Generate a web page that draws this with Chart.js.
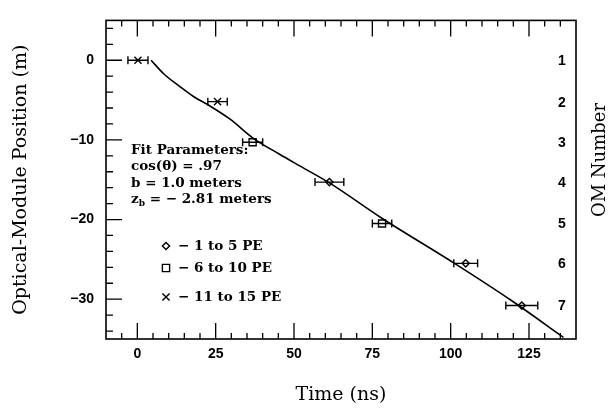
<!DOCTYPE html>
<html>
<head>
<meta charset="utf-8">
<script src="https://cdn.jsdelivr.net/npm/chart.js@4/dist/chart.umd.min.js"></script>
<style>
  html, body { margin: 0; padding: 0; background: #fff; }
  #wrap { width: 613px; height: 409px; }
</style>
</head>
<body>
<div id="wrap"><canvas id="c" width="613" height="409"></canvas></div>
<script>
// ---- data ----
const omNumbers   = ['1', '2', '3', '4', '5', '6', '7'];
const omTimes     = [0.2, 25.6, 36.8, 61.3, 78.1, 104.8, 122.7];     // ns
const omPositions = [0, -5.2, -10.3, -15.3, -20.5, -25.5, -30.8];    // m
const timeErrors  = [3.2, 3.1, 3.2, 4.6, 3.1, 3.8, 5.1];             // ns
const omMarkers   = ['cross', 'cross', 'square', 'diamond', 'square', 'diamond', 'diamond'];

const fitTimes     = [4.4, 8.4, 13.7, 17.9, 23.2, 29.6, 37.0, 45.4, 52.0, 61.3, 78.3, 101.6, 119.5, 136.0];
const fitPositions = [0, -1.7, -3.35, -4.55, -5.75, -7.4, -9.8, -11.8, -13.3, -15.4, -19.9, -25.6, -30.2, -34.8];

const xTickValues = [0, 25, 50, 75, 100, 125];
const yTickValues = [0, -10, -20, -30];

const fitLines = ['Fit Parameters:', 'cos(\u03B8) = .97', 'b = 1.0 meters'];
const legendItems = [
  { marker: 'diamond', text: '\u2212 1 to 5 PE' },
  { marker: 'square',  text: '\u2212 6 to 10 PE' },
  { marker: 'cross',   text: '\u2212 11 to 15 PE' }
];

// ---- build datasets ----
function pts(kind) {
  const out = [];
  omTimes.forEach((t, i) => { if (omMarkers[i] === kind) out.push({ x: t, y: omPositions[i] }); });
  return out;
}
const fitData = fitTimes.map((t, i) => ({ x: t, y: fitPositions[i] }));

const SERIF = '"DejaVu Serif", "Liberation Serif", serif';
const SANS = '"Liberation Sans", Arial, sans-serif';

function drawMarker(ctx, kind, x, y) {
  ctx.save();
  ctx.strokeStyle = '#000';
  ctx.lineWidth = 1.4;
  ctx.beginPath();
  if (kind === 'diamond') {
    const r = 3.6;
    ctx.moveTo(x, y - r); ctx.lineTo(x + r, y); ctx.lineTo(x, y + r); ctx.lineTo(x - r, y); ctx.closePath();
  } else if (kind === 'square') {
    const s = 3.6;
    ctx.rect(x - s, y - s, 2 * s, 2 * s);
  } else {
    const s = 3.6;
    ctx.moveTo(x - s, y - s); ctx.lineTo(x + s, y + s);
    ctx.moveTo(x + s, y - s); ctx.lineTo(x - s, y + s);
  }
  ctx.stroke();
  ctx.restore();
}

const framePlugin = {
  id: 'frame',
  beforeDatasetsDraw(chart) {
    const { ctx, chartArea: a, scales: { x, y } } = chart;
    ctx.save();
    ctx.strokeStyle = '#000';
    ctx.lineWidth = 1.6;
    ctx.strokeRect(a.left, a.top, a.right - a.left, a.bottom - a.top);
    ctx.lineWidth = 1.3;
    ctx.beginPath();
    // x ticks (bottom and top)
    for (let v = -5; v <= 135; v += 5) {
      const px = x.getPixelForValue(v);
      const len = (v % 25 === 0) ? 16 : 6;
      ctx.moveTo(px, a.bottom); ctx.lineTo(px, a.bottom - len);
      ctx.moveTo(px, a.top); ctx.lineTo(px, a.top + len);
    }
    // y ticks (left)
    for (let v = -34; v <= 4; v += 2) {
      const py = y.getPixelForValue(v);
      const len = (v % 10 === 0) ? 16 : 7;
      ctx.moveTo(a.left, py); ctx.lineTo(a.left + len, py);
    }
    ctx.stroke();
    ctx.restore();
  },
  afterDatasetsDraw(chart) {
    const { ctx, chartArea: a, scales: { x, y } } = chart;
    ctx.save();
    // error bars
    ctx.strokeStyle = '#000';
    ctx.lineWidth = 1.4;
    ctx.beginPath();
    omTimes.forEach((t, i) => {
      const py = y.getPixelForValue(omPositions[i]);
      const x0 = x.getPixelForValue(t - timeErrors[i]);
      const x1 = x.getPixelForValue(t + timeErrors[i]);
      ctx.moveTo(x0, py); ctx.lineTo(x1, py);
      ctx.moveTo(x0, py - 4); ctx.lineTo(x0, py + 4);
      ctx.moveTo(x1, py - 4); ctx.lineTo(x1, py + 4);
    });
    ctx.stroke();

    // OM numbers
    ctx.fillStyle = '#000';
    ctx.font = 'bold 14px ' + SANS;
    ctx.textAlign = 'center';
    ctx.textBaseline = 'middle';
    omNumbers.forEach((n, i) => {
      ctx.fillText(n, 562, y.getPixelForValue(omPositions[i]) + 1);
    });

    // fit parameter text
    ctx.font = 'bold 13.5px ' + SERIF;
    ctx.textAlign = 'left';
    ctx.textBaseline = 'middle';
    const tx = 131;
    const lineY = [150, 166.5, 183];
    fitLines.forEach((s, i) => ctx.fillText(s, tx, lineY[i]));
    // z_b line
    const zy = 199.5;
    ctx.fillText('z', tx, zy);
    let w = ctx.measureText('z').width;
    ctx.font = 'bold 9px ' + SERIF;
    ctx.fillText('b', tx + w, zy + 4);
    w += ctx.measureText('b').width;
    ctx.font = 'bold 13.5px ' + SERIF;
    ctx.fillText(' = \u2212 2.81 meters', tx + w, zy);

    // legend
    const ly = [246, 268, 297];
    legendItems.forEach((it, i) => {
      drawMarker(ctx, it.marker, 166, ly[i]);
      ctx.font = 'bold 13.5px ' + SERIF;
      ctx.fillText(it.text, 178, ly[i]);
    });

    // right axis title
    ctx.font = '18px ' + SERIF;
    ctx.textAlign = 'center';
    ctx.translate(600, 160);
    ctx.rotate(-Math.PI / 2);
    ctx.fillText('OM Number', 0, 0);
    ctx.restore();
  }
};

new Chart(document.getElementById('c'), {
  type: 'scatter',
  data: {
    datasets: [
      {
        label: 'fit', data: fitData, showLine: true, borderColor: '#000', borderWidth: 1.6,
        pointRadius: 0, cubicInterpolationMode: 'monotone', fill: false
      },
      { label: '11 to 15 PE', data: pts('cross'), pointStyle: 'crossRot', pointRadius: 5,
        borderColor: '#000', borderWidth: 1.4, backgroundColor: '#000' },
      { label: '6 to 10 PE', data: pts('square'), pointStyle: 'rect', pointRadius: 5,
        borderColor: '#000', borderWidth: 1.4, backgroundColor: '#fff' },
      { label: '1 to 5 PE', data: pts('diamond'), pointStyle: 'rectRot', pointRadius: 3.6,
        borderColor: '#000', borderWidth: 1.4, backgroundColor: '#fff' }
    ]
  },
  options: {
    responsive: false,
    animation: false,
    devicePixelRatio: 1,
    layout: { padding: { left: 0, right: 37, top: 7, bottom: 0 } },
    plugins: { legend: { display: false }, tooltip: { enabled: false } },
    scales: {
      x: {
        type: 'linear', min: -10, max: 140,
        grid: { display: false, drawTicks: false },
        border: { display: false },
        afterBuildTicks: s => { s.ticks = xTickValues.map(v => ({ value: v })); },
        afterFit: s => { s.height = 70; },
        ticks: { color: '#000', padding: 7, maxRotation: 0, font: { family: SANS, size: 14, weight: 'bold' } },
        title: { display: true, text: 'Time (ns)', color: '#000', padding: { top: 0, bottom: 3 },
                 font: { family: SERIF, size: 19 } }
      },
      y: {
        type: 'linear', min: -35, max: 5,
        grid: { display: false, drawTicks: false },
        border: { display: false },
        afterBuildTicks: s => { s.ticks = yTickValues.map(v => ({ value: v })); },
        afterFit: s => { s.width = 106; },
        ticks: { color: '#000', padding: 12,
                 callback: v => (v < 0 ? '\u2212' + Math.abs(v) : String(v)),
                 font: { family: SANS, size: 14, weight: 'bold' } },
        title: { display: true, text: 'Optical-Module Position (m)', color: '#000', padding: { top: 10, bottom: 0 },
                 font: { family: SERIF, size: 19 } }
      }
    }
  },
  plugins: [framePlugin]
});
</script>
</body>
</html>
